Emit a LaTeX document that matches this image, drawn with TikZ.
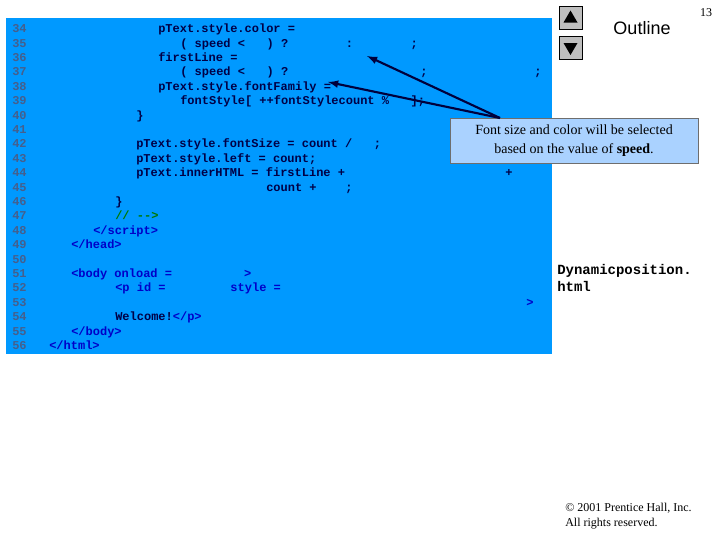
\documentclass[tikz,border=0pt]{standalone}
\usepackage{fontspec}
\usetikzlibrary{calc}
\setmainfont{Liberation Serif}
\newfontfamily\monof{Liberation Mono}
\newfontfamily\sansf{Liberation Sans}
\begin{document}
\begin{tikzpicture}[x=0.75pt,y=-0.75pt,
  code/.style={anchor=base west,inner sep=0,yshift=-3.5pt,font=\monof\bfseries\fontsize{9}{10}\selectfont,text={rgb,255:red,0;green,0;blue,70}},
  tag/.style={code,text={rgb,255:red,0;green,0;blue,200}},
  num/.style={code,text={rgb,255:red,70;green,95;blue,140}},
  arr/.style={-latex,line width=1.6pt,draw={rgb,255:red,0;green,0;blue,60}}]
\useasboundingbox (0,0) rectangle (720,540);
\fill[fill={rgb,255:red,0;green,153;blue,255}] (6,18) rectangle (552,354);
\foreach \n [count=\i from 0] in {34,...,56} {\node[num] (n\n) at (12,{28+\i*14.4}) {\n};}
\node[code] (l34) at (158,28) {pText.style.color =};
\node[code] (l35) at (180,42.4) {( speed <\ \ \ ) ?\ \ \ \ \ \ \ \ :\ \ \ \ \ \ \ \ ;};
\node[code] (l36) at (158,56.8) {firstLine =};
\node[code] (l37) at (180,71.2) {( speed <\ \ \ ) ?};
\node[code] (l37b) at (420,71.2) {;};
\node[code] (l37c) at (534,71.2) {;};
\node[code] (l38) at (158,85.6) {pText.style.fontFamily =};
\node[code] (l39) at (180,100) {fontStyle[ ++fontStylecount \%\ \ \ ];};
\node[code] (l40) at (136,114.4) {\}};
\node[code] (l42) at (136,143.2) {pText.style.fontSize = count /\ \ \ ;};
\node[code] (l43) at (136,157.6) {pText.style.left = count;};
\node[code] (l44) at (136,172) {pText.innerHTML = firstLine +};
\node[code] (l44b) at (505,172) {+};
\node[code] (l45) at (266,186.4) {count +\ \ \ \ ;};
\node[code] (l46) at (115,200.8) {\}};
\node[code,text={rgb,255:red,0;green,120;blue,0}] (l47) at (115,215.2) {// -->};
\node[tag] (l48) at (93,229.6) {</script>};
\node[tag] (l49) at (71,244) {</head>};
\node[tag] (l51) at (71,272.8) {<body onload =\ \ \ \ \ \ \ \ \ \ >};
\node[tag] (l52) at (115,287.2) {<p id =\ \ \ \ \ \ \ \ \ style =};
\node[tag] (l53) at (526,301.6) {>};
\node[code] (l54) at (115,316) {Welcome!\textcolor[RGB]{0,0,200}{</p>}};
\node[tag] (l55) at (71,330.4) {</body>};
\node[tag] (l56) at (49,344.8) {</html>};
\node[draw={rgb,255:red,110;green,110;blue,110},fill={rgb,255:red,170;green,210;blue,255},minimum width=248*0.75pt,minimum height=45*0.75pt,align=center,inner sep=1pt,font=\fontsize{10.5}{14}\selectfont] (cb) at (574,140.5) {Font size and color will be selected\\based on the value of \textbf{speed}.};
\coordinate (src) at (500,118);
\coordinate (t1) at (367,56);
\coordinate (t2) at (328,82);
\draw[arr] (src) -- (t1);
\draw[arr] (src) -- (t2);
\node[draw,fill={rgb,255:red,190;green,190;blue,190},minimum size=17pt,inner sep=0] (b1) at (570.5,17.5) {};
\fill[black] ($(b1)+(-7,5)$) -- ($(b1)+(7,5)$) -- ($(b1)+(0,-7)$) -- cycle;
\node[draw,fill={rgb,255:red,190;green,190;blue,190},minimum size=17pt,inner sep=0] (b2) at (570.5,48) {};
\fill[black] ($(b2)+(-7,-5)$) -- ($(b2)+(7,-5)$) -- ($(b2)+(0,7)$) -- cycle;
\node[font=\sansf\fontsize{13.5}{15}\selectfont] (ol) at (642,28) {Outline};
\node[font=\fontsize{9}{10}\selectfont] (pg) at (706,13) {13};
\node[anchor=north west,align=left,inner sep=0,font=\monof\bfseries\fontsize{10.5}{13}\selectfont] (fn) at (557,264) {Dynamicposition.\\html};
\node[anchor=north west,align=left,inner sep=0,font=\fontsize{9}{11}\selectfont] (cp) at (565,503) {\copyright\ 2001 Prentice Hall, Inc.\\All rights reserved.};
\end{tikzpicture}
\end{document}
